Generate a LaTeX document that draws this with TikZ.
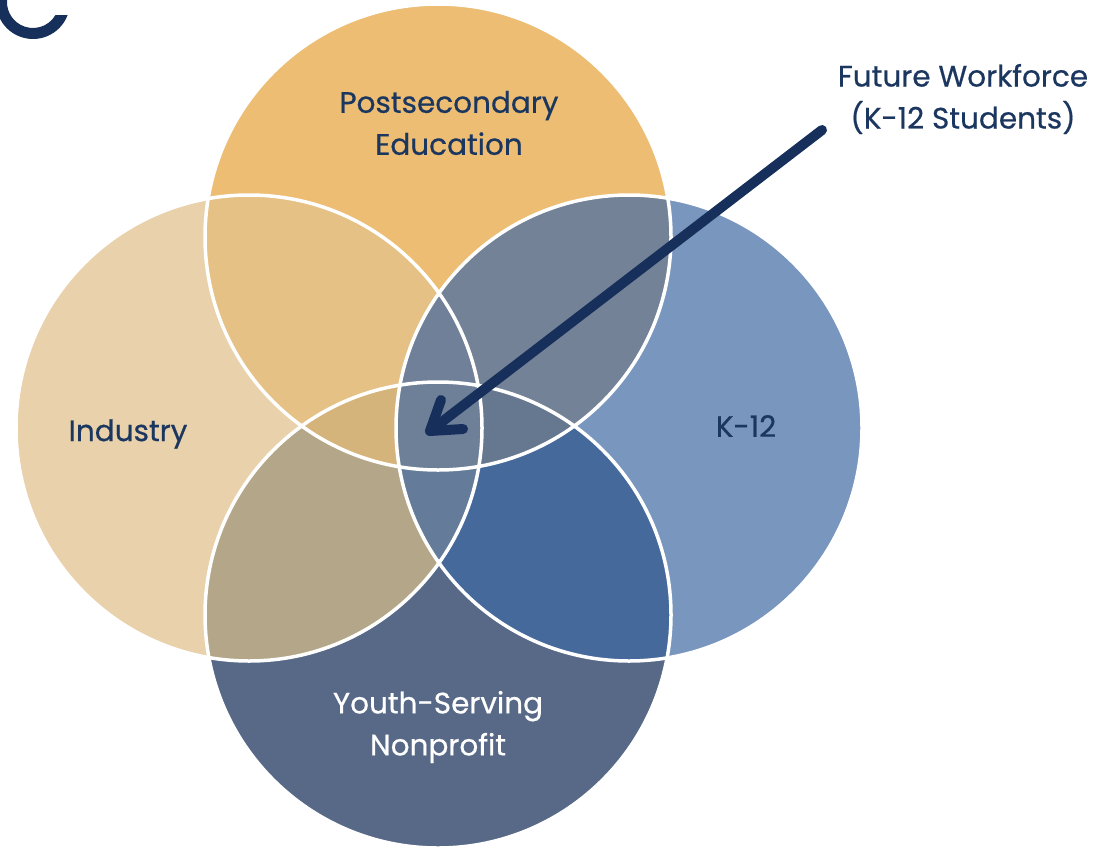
\documentclass[tikz,border=0pt]{standalone}
\usepackage{fontspec}
\setmainfont{Poppins}[FakeBold=0.6]
\definecolor{colT}{HTML}{ECBD73}
\definecolor{colL}{HTML}{E8D1AB}
\definecolor{colR}{HTML}{7896BE}
\definecolor{colB}{HTML}{576987}
\definecolor{colTL}{HTML}{E5C185}
\definecolor{colTR}{HTML}{738296}
\definecolor{colLB}{HTML}{B4A688}
\definecolor{colRB}{HTML}{45699B}
\definecolor{colTLB}{HTML}{D5B47B}
\definecolor{colTRB}{HTML}{667790}
\definecolor{colTLR}{HTML}{708099}
\definecolor{colLRB}{HTML}{657B9A}
\definecolor{colAll}{HTML}{6E7F98}
\definecolor{navytext}{HTML}{1C375F}
\definecolor{navyarrow}{HTML}{17305B}
\begin{document}
\begin{tikzpicture}[x=1pt,y=1pt,
  lbl/.style={font=\fontsize{29.5}{42}\selectfont, align=center, text=navytext, inner sep=0pt},
  outline/.style={draw=white, line width=3.5pt},
  arrowline/.style={draw=navyarrow, line width=10pt, line cap=round, line join=round}]
\useasboundingbox (0,0) rectangle (1100,-851);
\def\cT{(438,-237) circle[radius=233]}
\def\cB{(438,-615) circle[radius=233]}
\def\cL{(249,-428) circle[radius=233]}
\def\cR{(629,-428) circle[radius=233]}
% single circles
\fill[colT] \cT;
\fill[colL] \cL;
\fill[colR] \cR;
\fill[colB] \cB;
% pairs
\begin{scope}\clip \cT; \fill[colTL] \cL; \end{scope}
\begin{scope}\clip \cT; \fill[colTR] \cR; \end{scope}
\begin{scope}\clip \cB; \fill[colLB] \cL; \end{scope}
\begin{scope}\clip \cB; \fill[colRB] \cR; \end{scope}
% triples
\begin{scope}\clip \cT; \clip \cB; \fill[colTLB] \cL; \end{scope}
\begin{scope}\clip \cT; \clip \cB; \fill[colTRB] \cR; \end{scope}
\begin{scope}\clip \cL; \clip \cR; \fill[colTLR] \cT; \end{scope}
\begin{scope}\clip \cL; \clip \cR; \fill[colLRB] \cB; \end{scope}
% all four
\begin{scope}\clip \cT; \clip \cB; \clip \cL; \fill[colAll] \cR; \end{scope}
% outlines
\draw[outline] \cT;
\draw[outline] \cL;
\draw[outline] \cR;
\draw[outline] \cB;
% logo ring fragment
\fill[navyarrow] (33,-2) ++(170:37) arc[start angle=170, end angle=339.4, radius=37]
  -- (55.5,-15) arc[start angle=330, end angle=170, radius=26] -- cycle;
% labels
\node[lbl] (post) at (449,-123) {Postsecondary\\Education};
\node[lbl] (industry) at (128,-434) {Industry};
\node[lbl] (k12) at (746,-426) {K-12};
\node[lbl, text=white] (youth) at (438,-727) {Youth-Serving\\Nonprofit};
\node[lbl] (future) at (963,-99) {Future Workforce\\(K-12 Students)};
% arrow
\coordinate (tail) at (822,-130);
\coordinate (tip) at (430,-431);
\draw[arrowline] (tail) -- (tip);
\draw[arrowline] ([shift={(11,31)}]tip) -- (tip) -- ++(33,2);
\end{tikzpicture}
\end{document}
